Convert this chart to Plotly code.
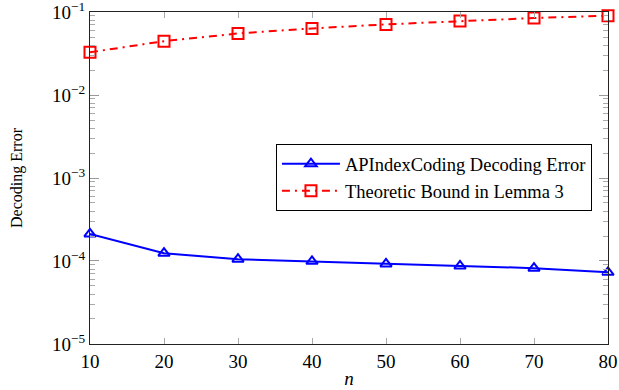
import plotly.graph_objects as go

n_vals = [10, 20, 30, 40, 50, 60, 70, 80]
api_err = [2.12e-4, 1.24e-4, 1.05e-4, 0.99e-4, 0.92e-4, 0.87e-4, 0.82e-4, 0.73e-4]
bound = [0.0327, 0.0446, 0.0552, 0.0635, 0.071, 0.0778, 0.0846, 0.0904]
series_names = ["APIndexCoding Decoding Error", "Theoretic Bound in Lemma 3"]
x_ticks = [10, 20, 30, 40, 50, 60, 70, 80]
y_exps = [-5, -4, -3, -2, -1]

FONT = "Liberation Serif"

y_tickvals = [10.0 ** e for e in y_exps]
y_ticktext = ["10<sup>\u2212%d</sup>" % (-e) for e in y_exps]
y_minor = [m * 10.0 ** e for e in y_exps[:-1] for m in range(2, 10)]

fig = go.Figure()
fig.add_trace(go.Scatter(
    x=n_vals, y=api_err, name=series_names[0], mode="lines+markers",
    cliponaxis=False,
    line=dict(color="#0000ff", width=2),
    marker=dict(symbol="triangle-up-open", size=10, color="#0000ff", line=dict(width=2)),
))
fig.add_trace(go.Scatter(
    x=n_vals, y=bound, name=series_names[1], mode="lines+markers",
    cliponaxis=False,
    line=dict(color="#ff0000", width=2, dash="8px,5px,2px,5px"),
    marker=dict(symbol="square-open", size=11, color="#ff0000", line=dict(width=2)),
))

fig.update_layout(
    width=619, height=390,
    margin=dict(l=90, r=11, t=12, b=46),
    paper_bgcolor="white", plot_bgcolor="white",
    font=dict(family=FONT, size=18, color="black"),
    showlegend=True,
    legend=dict(
        x=0.969, y=0.602, xanchor="right", yanchor="top",
        bordercolor="black", borderwidth=1, bgcolor="white",
        font=dict(family=FONT, size=18.5), tracegroupgap=0, itemwidth=58,
    ),
)
fig.update_xaxes(
    range=[10, 80], tickvals=x_ticks, ticktext=[str(v) for v in x_ticks],
    automargin=False, ticklabeloverflow="allow",
    showgrid=False, zeroline=False,
    showline=True, linecolor="#222", linewidth=1, mirror="ticks",
    ticks="inside", ticklen=6, tickcolor="#aaa", tickwidth=1,
    tickfont=dict(family=FONT, size=19),
    title=dict(text="<i>n</i>", font=dict(family=FONT, size=19), standoff=0),
)
fig.update_yaxes(
    type="log", range=[-5.0005, -0.9995], tickvals=y_tickvals, ticktext=y_ticktext,
    automargin=False, ticklabeloverflow="allow",
    showgrid=False, zeroline=False,
    showline=True, linecolor="#222", linewidth=1, mirror="ticks",
    ticks="inside", ticklen=9, tickcolor="#999", tickwidth=1,
    minor=dict(tickvals=y_minor, ticks="inside", ticklen=5, tickcolor="#aaa", showgrid=False),
    tickfont=dict(family=FONT, size=19),
    title=dict(text="Decoding Error", font=dict(family=FONT, size=16), standoff=25),
)

fig.write_html("out.html")
